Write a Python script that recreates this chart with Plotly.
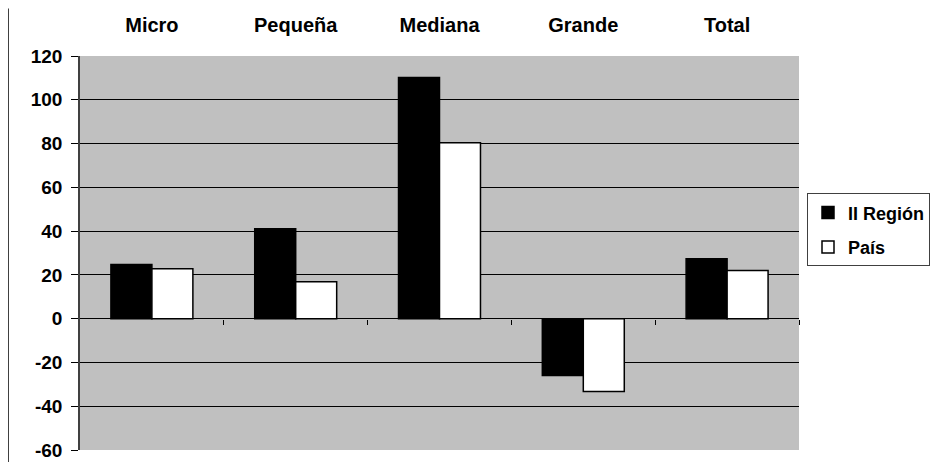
import plotly.graph_objects as go

categories = ["Micro", "Pequeña", "Mediana", "Grande", "Total"]
region_vals = [24.8, 41.1, 110.2, -26.0, 27.4]
pais_vals = [22.8, 16.9, 80.4, -33.3, 22.0]
y_ticks = [-60, -40, -20, 0, 20, 40, 60, 80, 100, 120]
y_tick_text = [str(v) for v in y_ticks]

FONT = "Liberation Sans, Arial, sans-serif"

fig = go.Figure()
fig.add_trace(go.Bar(
    x=categories, y=region_vals, name="II Región", legendgroup="a",
    marker=dict(color="black", line=dict(color="black", width=1.5)),
))
fig.add_trace(go.Bar(
    x=categories, y=pais_vals, name="País", legendgroup="b",
    marker=dict(color="white", line=dict(color="black", width=1.5)),
))
# invisible trace on xaxis2 to hold boundary ticks at the zero line
fig.add_trace(go.Scatter(x=[-0.5, 4.5], y=[0, 0], xaxis="x2", mode="lines",
                         line=dict(width=0), showlegend=False, hoverinfo="skip"))

# page body has an 8px offset
OFF = 8
W, H = 941 - OFF, 462 - OFF
l, t = 80 - OFF, 55.5 - OFF
plot_w, plot_h = 719, 394.5
r = W - l - plot_w
b = H - t - plot_h

fig.update_layout(
    width=W, height=H,
    margin=dict(l=l, r=r, t=t, b=b, pad=0, autoexpand=False),
    paper_bgcolor="white",
    plot_bgcolor="#C0C0C0",
    barmode="group",
    bargap=0.43,
    bargroupgap=0,
    font=dict(family=FONT, size=16, color="black"),
    xaxis=dict(
        side="top", showline=False, ticks="", showgrid=False,
        tickfont=dict(family=FONT, size=20, color="black", weight="bold"),
        ticklabelstandoff=19, automargin=False,
        zeroline=False,
    ),
    xaxis2=dict(
        overlaying="x", anchor="free", position=60 / 180,
        range=[-0.5, 4.5], tickvals=[0.5, 1.5, 2.5, 3.5, 4.5],
        ticks="outside", ticklen=5, tickcolor="black", tickwidth=1,
        showticklabels=False, showgrid=False, showline=False, zeroline=False,
        automargin=False,
    ),
    yaxis=dict(
        range=[-60, 120], tickvals=y_ticks, ticktext=y_tick_text,
        showgrid=True, gridcolor="black", gridwidth=1,
        zeroline=True, zerolinecolor="black", zerolinewidth=1,
        showline=True, linecolor="#404040", linewidth=1.5,
        ticks="outside", ticklen=7, tickcolor="black",
        tickfont=dict(family=FONT, size=19, color="black", weight="bold"),
        ticklabelstandoff=5, automargin=False,
    ),
    legend=dict(
        x=(807 - 80) / plot_w, y=1 - (193 - 55.5) / plot_h,
        xanchor="left", yanchor="top",
        bordercolor="#404040", borderwidth=1, bgcolor="white",
        font=dict(family=FONT, size=18, color="black", weight="bold"),
        itemwidth=30, traceorder="grouped", tracegroupgap=8,
    ),
    shapes=[dict(type="line", xref="paper", yref="paper",
                 x0=-l / plot_w, x1=-l / plot_w,
                 y0=-b / plot_h, y1=1 + t / plot_h,
                 line=dict(color="black", width=1.5))],
)

fig.write_html("out.html")
